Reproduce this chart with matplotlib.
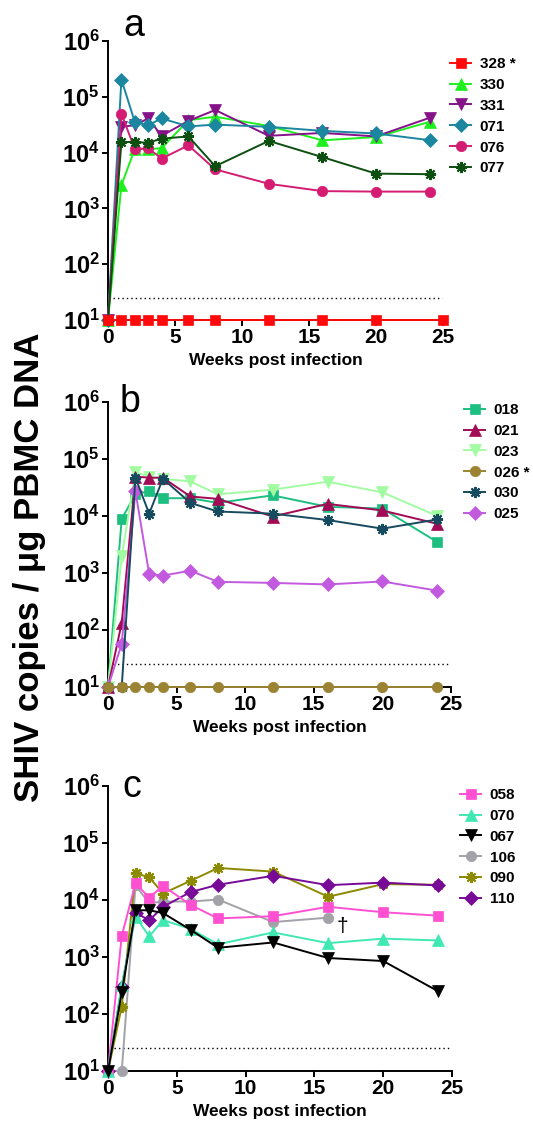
import matplotlib
matplotlib.use("Agg")
import matplotlib.pyplot as plt

plt.rcParams['font.family'] = ['Liberation Sans', 'DejaVu Sans']
plt.rcParams['mathtext.fontset'] = 'custom'
plt.rcParams['mathtext.rm'] = 'Liberation Sans'
plt.rcParams['mathtext.bf'] = 'Liberation Sans:bold'

weeks = [0, 1, 2, 3, 4, 6, 8, 12, 16, 20, 24]
weeks_328 = [0, 1, 2, 3, 4, 6, 8, 12, 16, 20, 25]
weeks_106 = [0, 1, 2, 3, 4, 6, 8, 12, 16]

# panel a
a_labels = ['328 *', '330', '331', '071', '076', '077']
a_328 = [10, 10, 10, 10, 10, 10, 10, 10, 10, 10, 10]
a_330 = [10, 2600, 11500, 11500, 12000, 38000, 44000, 30000, 16600, 19000, 35500]
a_331 = [10, 29000, 31000, 41000, 20000, 37000, 58000, 20000, 22500, 19500, 42000]
a_071 = [10, 204000, 35500, 31000, 41000, 29500, 31700, 29000, 24500, 22000, 16700]
a_076 = [10, 50000, 11500, 12000, 7800, 13500, 5000, 2760, 2040, 2000, 2000]
a_077 = [10, 15500, 15500, 15000, 17800, 19500, 5700, 16200, 8300, 4200, 4100]

# panel b
b_labels = ['018', '021', '023', '026 *', '030', '025']
b_018 = [10, 8900, 24000, 27500, 20500, 20500, 17000, 23000, 14500, 13500, 3500]
b_021 = [10, 133, 49000, 47000, 47000, 22000, 20000, 9800, 16300, 12500, 7300]
b_023 = [10, 1950, 59000, 49000, 45000, 40500, 24000, 29000, 40000, 26000, 10000]
b_026 = [10, 10, 10, 10, 10, 10, 10, 10, 10, 10, 10]
b_030 = [10, 10, 47000, 11000, 45000, 17000, 12000, 11000, 8500, 6000, 8700]
b_025 = [10, 57, 27000, 960, 900, 1100, 700, 670, 630, 710, 490]

# panel c
c_labels = ['058', '070', '067', '106', '090', '110']
c_058 = [10, 2350, 19500, 11000, 17700, 8200, 4750, 5200, 7600, 6100, 5300]
c_070 = [10, 325, 5100, 2300, 4450, 3100, 1670, 2700, 1750, 2100, 1950]
c_067 = [10, 240, 6600, 6600, 5900, 3000, 1450, 1800, 960, 850, 250]
c_106 = [10, 10, 18000, 8800, 9400, 9400, 10200, 4100, 4900]
c_090 = [10, 135, 29500, 25000, 13000, 21700, 36500, 31500, 11400, 19000, 18500]
c_110 = [10, 300, 6000, 4400, 7600, 13800, 18500, 26600, 18200, 20200, 18000]

detection_limit = 25

W, H = 533, 1135
fig = plt.figure(figsize=(W / 100, H / 100), dpi=100)


def px_axes(left, right, top, bottom):
    return fig.add_axes([left / W, 1 - bottom / H, (right - left) / W, (bottom - top) / H])


def style_axis(ax, xmax_line):
    ax.set_yscale('log')
    ax.set_xlim(0, 25)
    ax.set_ylim(10, 1e6)
    ax.spines['top'].set_visible(False)
    ax.spines['right'].set_visible(False)
    for s in ['left', 'bottom']:
        ax.spines[s].set_linewidth(1.4)
    ax.set_yticks([10 ** k for k in range(1, 7)])
    ax.set_yticklabels([r'$\mathbf{10^{%d}}$' % k for k in range(1, 7)], fontsize=17)
    ax.yaxis.set_minor_locator(matplotlib.ticker.NullLocator())
    ax.set_xticks([0, 5, 10, 15, 20, 25])
    ax.set_xticklabels(['0', '5', '10', '15', '20', '25'], fontsize=15, fontweight='bold')
    ax.tick_params(direction='out', length=4, width=1.4, pad=2)
    ax.set_xlabel('Weeks post infection', fontsize=12.5, fontweight='bold', labelpad=4)
    ax.plot([0.4, xmax_line], [detection_limit, detection_limit], ls=(0, (1, 2.2)),
            color='black', lw=1.0, zorder=1)


def series(ax, x, y, color, marker, label, ms=7, z=3):
    mew = 1.5 if isinstance(marker, tuple) else 0.5
    ax.plot(x, y, color=color, marker=marker, ms=ms, lw=1.4, mec=color, mfc=color,
            mew=mew, label=label, clip_on=False, zorder=z)


def add_legend(ax, names, x, y):
    h, l = ax.get_legend_handles_labels()
    order = [l.index(n) for n in names]
    ax.legend([h[i] for i in order], [l[i] for i in order], loc='upper left',
              bbox_to_anchor=(x / W, 1 - y / H), bbox_transform=fig.transFigure,
              frameon=False, prop={'weight': 'bold', 'size': 11}, handlelength=1.4,
              handletextpad=0.55, labelspacing=0.45, borderpad=0, borderaxespad=0)


asterisk = (8, 2, 0)

# ---- panel a
ax1 = px_axes(108, 443, 41, 320)
style_axis(ax1, 24.9)
series(ax1, weeks, a_330, '#1ef01e', '^', a_labels[1], ms=8)
series(ax1, weeks, a_331, '#86128a', 'v', a_labels[2], ms=8)
series(ax1, weeks, a_071, '#1b86a0', 'D', a_labels[3], ms=7)
series(ax1, weeks, a_076, '#d41c72', 'o', a_labels[4], ms=7.5)
series(ax1, weeks, a_077, '#0d4f10', asterisk, a_labels[5], ms=8)
series(ax1, weeks_328, a_328, '#ff0a0a', 's', a_labels[0], ms=6.5, z=4)
add_legend(ax1, a_labels, 450, 57)
fig.text(123 / W, 1 - 36 / H, 'a', fontsize=27)

# ---- panel b
ax2 = px_axes(108, 451, 402, 687)
style_axis(ax2, 25)
series(ax2, weeks, b_018, '#1cbf80', 's', b_labels[0], ms=6.5)
series(ax2, weeks, b_023, '#a2fca2', 'v', b_labels[2], ms=8)
series(ax2, weeks, b_021, '#a20a55', '^', b_labels[1], ms=8)
series(ax2, weeks, b_025, '#c25ae0', 'D', b_labels[5], ms=7)
series(ax2, weeks, b_030, '#164a5e', asterisk, b_labels[4], ms=8)
series(ax2, weeks, b_026, '#9a8434', 'o', b_labels[3], ms=7.5)
add_legend(ax2, b_labels, 464, 403)
fig.text(120 / W, 1 - 412 / H, 'b', fontsize=27)

# ---- panel c
ax3 = px_axes(108, 452, 786, 1071)
style_axis(ax3, 25)
series(ax3, weeks_106, c_106, '#a2a2a8', 'o', c_labels[3], ms=7.5)
series(ax3, weeks, c_090, '#8c8a00', asterisk, c_labels[4], ms=8)
series(ax3, weeks, c_110, '#780a98', 'D', c_labels[5], ms=7)
series(ax3, weeks, c_058, '#ff50d2', 's', c_labels[0], ms=6.5)
series(ax3, weeks, c_070, '#40e8b2', '^', c_labels[1], ms=8)
series(ax3, weeks, c_067, '#000000', 'v', c_labels[2], ms=8)
add_legend(ax3, c_labels, 460, 788)
ax3.text(17, 3400, '†', fontsize=15, ha='center', va='center')
fig.text(122 / W, 1 - 797 / H, 'c', fontsize=27)

fig.text(0.056, 0.5, 'SHIV copies / μg PBMC DNA', rotation=90, fontsize=25,
         fontweight='bold', ha='center', va='center')

fig.savefig('out.png', dpi=100)
